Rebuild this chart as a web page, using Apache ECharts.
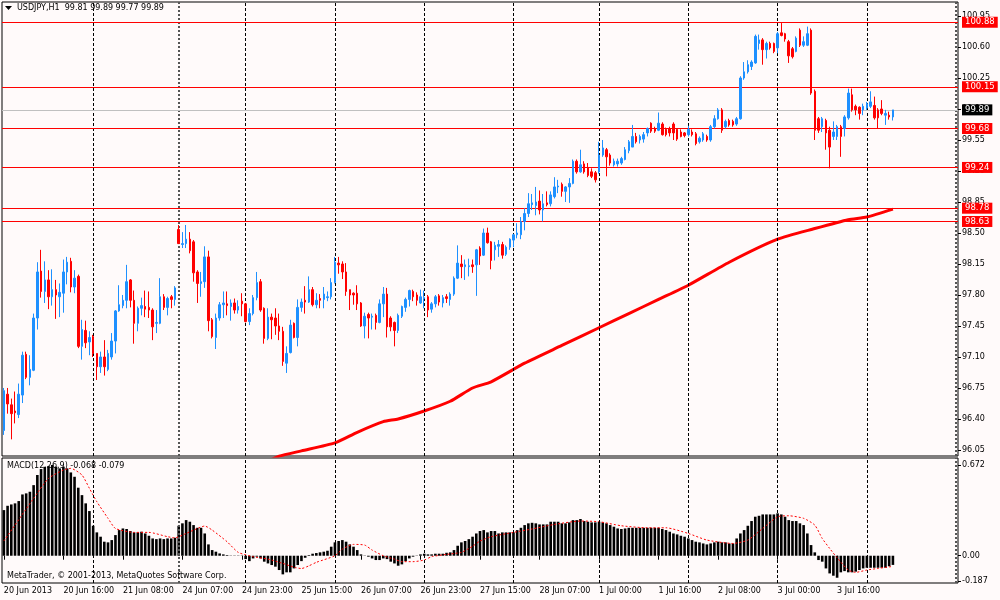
<!DOCTYPE html>
<html>
<head>
<meta charset="utf-8">
<title>USDJPY,H1</title>
<script src="https://cdn.jsdelivr.net/npm/echarts@6/dist/echarts.min.js"></script>
<style>
html, body { margin: 0; padding: 0; background: #fffafa; }
#chart { width: 1000px; height: 600px; }
</style>
</head>
<body>
<div id="chart"></div>
<script>
// H1 bars: [open, high, low, close]
const candles = [
  [96.27,96.75,96.22,96.72],[96.68,96.75,96.46,96.57],[96.56,96.63,96.17,96.46],[96.49,96.71,96.35,96.47],
  [96.45,96.80,96.41,96.68],[96.67,97.16,96.58,97.12],[97.13,97.16,96.85,96.87],[96.87,97.12,96.78,96.96],
  [96.95,97.59,96.94,97.54],[97.54,98.17,97.41,98.06],[98.07,98.31,97.77,97.84],[97.84,98.18,97.71,97.97],
  [97.97,98.08,97.64,97.78],[97.78,98.09,97.68,97.86],[97.86,97.97,97.53,97.80],[97.78,97.93,97.55,97.83],
  [97.82,98.20,97.60,98.06],[98.06,98.23,97.92,98.17],[98.18,98.22,97.83,97.89],[97.89,98.08,97.82,97.99],
  [98.01,98.03,97.20,97.22],[97.22,97.52,97.07,97.41],[97.40,97.51,97.20,97.26],[97.27,97.39,97.12,97.32],
  [97.33,97.35,97.10,97.14],[97.14,97.14,96.84,96.99],[96.99,97.16,96.92,97.10],[97.10,97.29,96.89,96.99],
  [96.96,97.18,96.94,97.14],[97.10,97.37,97.07,97.28],[97.28,97.63,97.14,97.62],[97.62,97.91,97.61,97.69],
  [97.68,97.80,97.65,97.74],[97.74,98.14,97.65,97.95],[97.97,97.98,97.66,97.74],[97.74,97.85,97.25,97.48],
  [97.48,97.67,97.39,97.65],[97.65,97.77,97.57,97.68],[97.67,97.85,97.55,97.64],[97.66,97.84,97.54,97.63],
  [97.63,97.65,97.29,97.44],[97.48,97.63,97.37,97.49],[97.48,97.99,97.47,97.78],[97.78,97.81,97.63,97.66],
  [97.66,97.78,97.57,97.76],[97.78,97.80,97.65,97.75],[97.75,97.90,97.68,97.88],[98.54,98.59,98.38,98.38],
  [98.37,98.51,98.33,98.38],[98.38,98.59,98.33,98.43],[98.43,98.51,98.27,98.30],[98.40,98.42,97.95,98.05],
  [98.06,98.08,97.71,97.93],[97.93,98.06,97.78,97.95],[97.95,98.35,97.88,98.23],[98.23,98.30,97.39,97.51],
  [97.52,97.54,97.31,97.33],[97.32,97.59,97.19,97.54],[97.54,97.72,97.51,97.69],[97.69,97.84,97.54,97.71],
  [97.70,97.84,97.57,97.68],[97.67,97.75,97.51,97.71],[97.71,97.76,97.59,97.63],[97.63,97.74,97.59,97.67],
  [97.73,97.82,97.56,97.70],[97.70,97.71,97.49,97.50],[97.50,97.65,97.46,97.59],[97.59,97.80,97.57,97.77],
  [97.77,98.06,97.74,97.94],[97.95,97.98,97.61,97.63],[97.65,97.66,97.25,97.31],[97.31,97.65,97.29,97.55],
  [97.55,97.59,97.30,97.52],[97.54,97.65,97.35,97.45],[97.45,97.59,97.29,97.39],[97.39,97.44,97.00,97.05],
  [97.03,97.22,96.92,97.14],[97.15,97.52,97.14,97.46],[97.48,97.49,97.31,97.32],[97.32,97.75,97.22,97.66],
  [97.66,97.76,97.61,97.72],[97.74,97.90,97.59,97.72],[97.72,98.01,97.71,97.86],[97.86,97.89,97.67,97.69],
  [97.69,97.82,97.65,97.74],[97.76,97.81,97.65,97.74],[97.75,97.89,97.65,97.81],[97.77,97.84,97.73,97.78],
  [97.78,97.99,97.75,97.94],[97.94,98.23,97.93,98.17],[98.16,98.23,98.04,98.14],[98.15,98.18,97.98,98.06],
  [98.06,98.16,97.79,97.84],[97.86,97.86,97.63,97.80],[97.82,97.83,97.69,97.80],[97.82,97.91,97.63,97.70],
  [97.71,97.72,97.44,97.45],[97.45,97.60,97.31,97.56],[97.58,97.60,97.31,97.54],[97.55,97.59,97.41,97.56],
  [97.57,97.59,97.41,97.49],[97.49,97.75,97.48,97.70],[97.70,97.89,97.55,97.81],[97.81,97.88,97.32,97.44],
  [97.54,97.56,97.39,97.44],[97.49,97.50,97.22,97.40],[97.40,97.59,97.37,97.57],[97.56,97.68,97.54,97.67],
  [97.66,97.77,97.61,97.75],[97.75,97.86,97.67,97.85],[97.84,97.86,97.73,97.78],[97.80,97.83,97.68,97.74],
  [97.71,97.86,97.70,97.78],[97.76,97.85,97.65,97.77],[97.78,97.80,97.55,97.63],[97.64,97.72,97.60,97.70],
  [97.70,97.80,97.66,97.78],[97.79,97.81,97.68,97.72],[97.71,97.80,97.66,97.77],[97.78,97.81,97.71,97.76],
  [97.75,97.83,97.68,97.81],[97.81,98.01,97.79,97.99],[97.99,98.36,97.98,98.16],[98.15,98.25,97.99,98.12],
  [98.12,98.20,97.97,98.14],[98.12,98.21,98.01,98.13],[98.14,98.20,98.05,98.12],[98.14,98.32,97.79,98.31],
  [98.33,98.35,98.14,98.24],[98.25,98.55,98.24,98.50],[98.50,98.56,98.38,98.39],[98.40,98.41,98.09,98.19],
  [98.31,98.40,98.19,98.36],[98.35,98.42,98.23,98.37],[98.37,98.40,98.21,98.25],[98.26,98.36,98.24,98.34],
  [98.34,98.44,98.31,98.43],[98.42,98.49,98.34,98.48],[98.48,98.61,98.44,98.50],[98.48,98.68,98.43,98.63],
  [98.63,98.78,98.53,98.72],[98.72,98.95,98.68,98.83],[98.82,98.94,98.76,98.84],[98.81,99.02,98.70,98.85],
  [98.86,98.98,98.71,98.76],[98.76,98.94,98.63,98.83],[98.84,98.97,98.80,98.82],[98.83,98.97,98.80,98.93],
  [98.91,99.13,98.89,99.02],[99.02,99.10,98.95,99.03],[99.05,99.07,98.91,98.97],[98.97,99.03,98.85,99.02],
  [99.02,99.12,98.84,99.06],[99.06,99.33,99.05,99.31],[99.31,99.33,99.17,99.19],[99.19,99.44,99.18,99.27],
  [99.28,99.31,99.17,99.19],[99.24,99.29,99.13,99.15],[99.19,99.23,99.12,99.14],[99.18,99.20,99.07,99.10],
  [99.19,99.53,99.17,99.38],[99.38,99.55,99.36,99.46],[99.44,99.46,99.14,99.36],[99.38,99.40,99.26,99.29],
  [99.27,99.34,99.25,99.31],[99.28,99.34,99.25,99.31],[99.29,99.36,99.27,99.34],[99.33,99.47,99.32,99.44],
  [99.43,99.55,99.40,99.53],[99.47,99.72,99.47,99.59],[99.59,99.63,99.51,99.53],[99.55,99.61,99.51,99.59],
  [99.56,99.64,99.52,99.61],[99.63,99.69,99.59,99.68],[99.74,99.75,99.63,99.65],[99.68,99.70,99.63,99.65],
  [99.66,99.86,99.65,99.74],[99.73,99.75,99.60,99.61],[99.67,99.69,99.59,99.61],[99.68,99.70,99.59,99.63],
  [99.73,99.75,99.55,99.63],[99.67,99.68,99.54,99.56],[99.64,99.67,99.58,99.59],[99.63,99.64,99.58,99.60],
  [99.61,99.71,99.59,99.67],[99.64,99.67,99.59,99.61],[99.62,99.64,99.49,99.51],[99.53,99.59,99.51,99.57],
  [99.55,99.64,99.53,99.62],[99.59,99.61,99.53,99.55],[99.55,99.72,99.53,99.70],[99.70,99.83,99.68,99.79],
  [99.79,99.91,99.78,99.89],[99.89,99.91,99.63,99.66],[99.70,99.78,99.68,99.76],[99.77,99.79,99.70,99.72],
  [99.76,99.78,99.70,99.72],[99.73,99.81,99.71,99.79],[99.79,100.27,99.78,100.25],[100.25,100.43,100.23,100.32],
  [100.32,100.45,100.30,100.40],[100.38,100.45,100.34,100.43],[100.42,100.74,100.41,100.72],[100.64,100.74,100.57,100.68],
  [100.68,100.70,100.40,100.57],[100.57,100.66,100.47,100.64],[100.64,100.66,100.57,100.59],[100.64,100.65,100.53,100.55],
  [100.59,100.77,100.53,100.75],[100.76,100.87,100.72,100.73],[100.75,100.76,100.66,100.69],[100.66,100.68,100.42,100.50],
  [100.58,100.60,100.47,100.49],[100.55,100.72,100.54,100.70],[100.79,100.81,100.60,100.62],[100.62,100.72,100.60,100.66],
  [100.62,100.83,100.61,100.75],[100.79,100.81,100.06,100.08],[100.10,100.12,99.55,99.66],[99.79,99.81,99.63,99.66],
  [99.70,99.81,99.64,99.79],[99.77,99.79,99.44,99.63],[99.66,99.70,99.23,99.47],[99.59,99.76,99.55,99.64],
  [99.59,99.72,99.55,99.70],[99.70,99.72,99.36,99.59],[99.68,99.83,99.59,99.81],[99.80,100.13,99.78,100.08],
  [100.06,100.13,99.87,99.89],[99.93,99.95,99.83,99.89],[99.92,99.93,99.78,99.85],[99.89,99.96,99.83,99.93],
  [99.91,99.98,99.89,99.96],[99.93,100.10,99.91,99.98],[99.94,100.04,99.78,99.80],[99.89,99.91,99.68,99.80],
  [99.90,100.00,99.83,99.85],[99.83,99.89,99.72,99.85],[99.83,99.87,99.78,99.81],[99.81,99.89,99.77,99.89]
];

// moving average, read at a few bars: [bar index, price]
const maLine = [
  [70,95.90],[74,95.98],[80,96.04],[89,96.13],[95,96.25],[102,96.37],[106,96.40],[113,96.49],
  [120,96.60],[126,96.75],[131,96.82],[140,97.03],[150,97.23],[160,97.43],[168,97.59],[176,97.75],
  [184,97.91],[195,98.17],[208,98.43],[218,98.55],[227,98.65],[232,98.68],[239,98.77]
];

// MACD(12,26,9) histogram, one value per bar
const macdHist = [
  0.338,0.370,0.380,0.388,0.405,0.454,0.462,0.474,0.523,0.598,
  0.642,0.659,0.664,0.672,0.660,0.647,0.660,0.647,0.617,0.585,
  0.504,0.449,0.388,0.331,0.222,0.173,0.141,0.104,0.099,0.116,
  0.153,0.190,0.202,0.198,0.183,0.173,0.173,0.178,0.165,0.148,
  0.128,0.123,0.128,0.123,0.128,0.128,0.133,0.222,0.240,0.264,
  0.252,0.227,0.207,0.207,0.165,0.084,0.042,0.030,0.017,0.010,
  0.005,-0.002,0.002,0.002,0.002,-0.025,-0.040,-0.020,-0.007,-0.020,
  -0.044,-0.057,-0.069,-0.081,-0.106,-0.138,-0.123,-0.123,-0.094,-0.069,
  -0.040,-0.015,0.005,0.015,0.020,0.025,0.030,0.037,0.067,0.099,
  0.109,0.116,0.104,0.084,0.067,0.042,0.010,0.002,-0.007,-0.020,
  -0.032,-0.032,-0.020,-0.025,-0.044,-0.057,-0.074,-0.064,-0.040,-0.020,
  -0.007,0.002,0.010,0.015,0.010,0.010,0.015,0.015,0.015,0.022,
  0.025,0.042,0.074,0.099,0.109,0.123,0.141,0.165,0.183,0.190,
  0.173,0.183,0.183,0.165,0.173,0.173,0.173,0.173,0.190,0.207,
  0.227,0.240,0.244,0.240,0.232,0.232,0.232,0.252,0.252,0.252,
  0.240,0.240,0.247,0.264,0.264,0.272,0.257,0.252,0.247,0.247,
  0.252,0.247,0.240,0.227,0.215,0.202,0.198,0.202,0.207,0.207,
  0.207,0.207,0.207,0.207,0.207,0.207,0.207,0.198,0.190,0.178,
  0.165,0.158,0.148,0.141,0.128,0.116,0.104,0.099,0.091,0.084,
  0.091,0.099,0.104,0.099,0.099,0.091,0.091,0.128,0.165,0.190,
  0.222,0.257,0.289,0.296,0.306,0.306,0.306,0.306,0.314,0.306,
  0.289,0.264,0.257,0.257,0.240,0.227,0.165,0.079,0.025,-0.032,
  -0.044,-0.094,-0.131,-0.148,-0.163,-0.123,-0.114,-0.123,-0.123,-0.118,
  -0.106,-0.094,-0.089,-0.089,-0.089,-0.089,-0.089,-0.089,-0.078,-0.068
];

// signal line, read at a few bars: [bar index, value]
const macdSignal = [
  [0,0.109],[8,0.425],[12,0.573],[16,0.635],[18,0.647],[21,0.598],[23,0.499],[25,0.400],
  [28,0.277],[30,0.202],[35,0.173],[39,0.173],[44,0.141],[46,0.133],[49,0.165],[52,0.202],
  [54,0.220],[56,0.190],[60,0.104],[63,0.025],[67,-0.007],[71,-0.025],[75,-0.057],[78,-0.085],
  [80,-0.095],[82,-0.075],[84,-0.049],[89,0.000],[91,0.049],[94,0.084],[97,0.079],[99,0.042],
  [102,0.000],[105,-0.025],[107,-0.044],[110,-0.044],[113,-0.032],[115,-0.007],[119,0.010],[123,0.025],
  [126,0.070],[128,0.109],[131,0.141],[137,0.173],[142,0.198],[148,0.232],[155,0.257],[160,0.252],
  [166,0.222],[173,0.207],[178,0.207],[184,0.165],[189,0.116],[196,0.091],[200,0.116],[204,0.202],
  [208,0.289],[211,0.296],[215,0.277],[218,0.227],[220,0.128],[222,0.054],[224,-0.015],[227,-0.106],
  [229,-0.123],[232,-0.106],[235,-0.094],[239,-0.079]
];

const levels = [100.88, 100.15, 99.68, 99.24, 98.78, 98.63];
const bidPrice = 99.89;
const dayStarts = [24, 47, 65, 89, 113, 137, 160, 184, 208, 232, 256];
const weekStarts = [47, 256];
const timeLabels = ['20 Jun 2013', '20 Jun 16:00', '21 Jun 08:00', '24 Jun 07:00', '24 Jun 23:00',
  '25 Jun 15:00', '26 Jun 07:00', '26 Jun 23:00', '27 Jun 15:00', '28 Jun 07:00', '1 Jul 00:00',
  '1 Jul 16:00', '2 Jul 08:00', '3 Jul 00:00', '3 Jul 16:00'];
const priceTicks = [96.05, 96.40, 96.75, 97.10, 97.45, 97.80, 98.15, 98.50, 98.85, 99.20,
  99.55, 99.90, 100.25, 100.60, 100.95];
const macdTicks = [0.672, 0, -0.187];
const macdTickText = ['0.672', '0.00', '-0.187'];
const slotCount = 257;

const FONT = 'DejaVu Sans';
const cats = [];
for (let i = 0; i < slotCount; i++) cats.push(String(i));

// echarts wants [open, close, low, high]
const kData = candles.map(c => [c[0], c[3], c[2], c[1]]);

const dayLines = dayStarts.map(i => {
  const wk = weekStarts.indexOf(i) >= 0;
  return {
    xAxis: i,
    label: { show: false },
    lineStyle: { color: wk ? '#555' : '#000', width: wk ? 2 : 1, type: wk ? [2, 2] : [3, 2] }
  };
});

const tag = (txt, bg) => ({
  show: true, position: 'end', distance: 4, formatter: txt,
  backgroundColor: bg, color: '#fff', padding: [1, 3, 0, 3],
  fontFamily: FONT, fontSize: 8.5, lineHeight: 10
});

const levelLines = levels.map(v => ({
  yAxis: v,
  lineStyle: { color: '#ff0000', width: 1, type: 'solid' },
  label: tag(v.toFixed(2), '#ff0000')
}));
levelLines.push({
  yAxis: bidPrice,
  lineStyle: { color: '#c0c0c0', width: 1, type: 'solid' },
  label: tag(bidPrice.toFixed(2), '#000')
});

const showLabel = i => i % 16 === 0 && i / 16 < timeLabels.length;

const chart = echarts.init(document.getElementById('chart'), null, { renderer: 'canvas' });
chart.setOption({
  animation: false,
  backgroundColor: '#fffafa',
  grid: [
    { left: 2, top: 2, width: 956, height: 454, show: true, borderColor: '#000', borderWidth: 1, backgroundColor: 'transparent' },
    { left: 2, top: 458, width: 956, height: 125, show: true, borderColor: '#000', borderWidth: 1, backgroundColor: 'transparent' }
  ],
  xAxis: [
    {
      type: 'category', gridIndex: 0, data: cats,
      axisLine: { show: false }, axisTick: { show: false }, axisLabel: { show: false }, splitLine: { show: false }
    },
    {
      type: 'category', gridIndex: 1, data: cats,
      axisLine: { show: false },
      axisTick: { show: true, interval: showLabel, alignWithLabel: true, length: 4, lineStyle: { color: '#000' } },
      axisLabel: {
        show: true, interval: showLabel, formatter: (v, i) => timeLabels[i / 16] || '',
        align: 'left', margin: 4, fontFamily: FONT, fontSize: 8, color: '#000'
      },
      splitLine: { show: false }
    }
  ],
  yAxis: [
    {
      type: 'value', gridIndex: 0, position: 'right', min: 95.982, max: 101.108,
      axisLine: { show: false },
      axisTick: { show: true, customValues: priceTicks, length: 3, lineStyle: { color: '#000' } },
      axisLabel: { customValues: priceTicks, formatter: v => v.toFixed(2), margin: 4, fontFamily: FONT, fontSize: 8, color: '#000' },
      splitLine: { show: false }
    },
    {
      type: 'value', gridIndex: 1, position: 'right', min: -0.202, max: 0.724,
      axisLine: { show: false },
      axisTick: { show: true, customValues: macdTicks, length: 3, lineStyle: { color: '#000' } },
      axisLabel: {
        customValues: macdTicks, formatter: v => macdTickText[macdTicks.indexOf(v)],
        margin: 4, fontFamily: FONT, fontSize: 8, color: '#000'
      },
      splitLine: { show: false }
    }
  ],
  series: [
    {
      type: 'line', xAxisIndex: 0, yAxisIndex: 0, data: maLine,
      symbol: 'none', clip: true, silent: true, z: 1, smooth: 0.2,
      lineStyle: { color: '#ff0000', width: 3 }
    },
    {
      type: 'candlestick', xAxisIndex: 0, yAxisIndex: 0, data: kData,
      barWidth: 2, silent: true, z: 3,
      itemStyle: { color: '#1e90ff', color0: '#ff0000', borderColor: '#1e90ff', borderColor0: '#ff0000', borderWidth: 1 },
      markLine: { silent: true, symbol: ['none', 'none'], z: 2, data: dayLines.concat(levelLines) }
    },
    {
      type: 'bar', xAxisIndex: 1, yAxisIndex: 1, data: macdHist,
      barWidth: 2.6, silent: true,
      itemStyle: { color: '#000' },
      markLine: { silent: true, symbol: ['none', 'none'], data: dayLines }
    },
    {
      type: 'line', xAxisIndex: 1, yAxisIndex: 1, data: macdSignal,
      symbol: 'none', silent: true, z: 4, smooth: 0.2,
      lineStyle: { color: '#ff0000', width: 1, type: [2, 2] }
    }
  ],
  graphic: [
    { type: 'polygon', shape: { points: [[5, 6], [12, 6], [8.5, 10]] }, style: { fill: '#000' }, z: 10 },
    { type: 'text', left: 17, top: 4, z: 10, style: { text: 'USDJPY,H1  99.81 99.89 99.77 99.89', fill: '#000', font: '8px "DejaVu Sans"' } },
    { type: 'text', left: 7, top: 462, z: 10, style: { text: 'MACD(12,26,9) -0.068 -0.079', fill: '#000', font: '8px "DejaVu Sans"' } },
    { type: 'text', left: 7, top: 572, z: 10, style: { text: 'MetaTrader, \u00a9 2001-2013, MetaQuotes Software Corp.', fill: '#000', font: '8px "DejaVu Sans"' } }
  ]
});
</script>
</body>
</html>
